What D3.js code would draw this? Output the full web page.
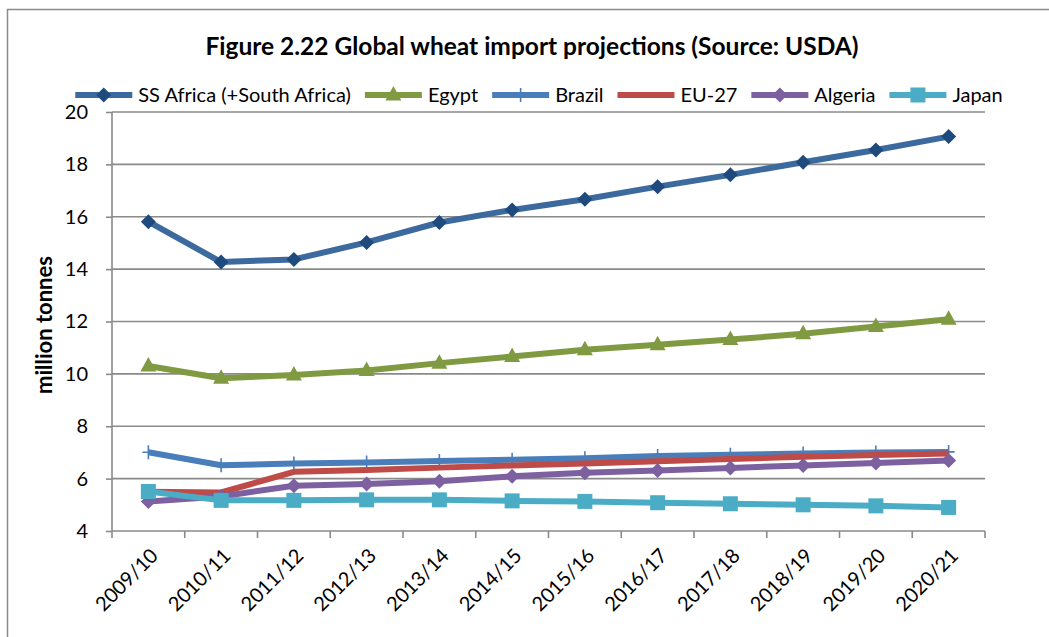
<!DOCTYPE html>
<meta charset="utf-8">
<style>
    body { margin: 0; background: #fff; }
    svg { display: block; }
    .grid line { stroke: #8a8a8a; stroke-width: 1.6px; }
    .axis path, .axis line { stroke: #8a8a8a; stroke-width: 1.6px; }
    .axis text { font-family: Lato, "Liberation Sans", sans-serif; font-size: 20px; fill: #000; }
    .axis .xlab { font-size: 20px; }
    .legend text { font-family: Lato, "Liberation Sans", sans-serif; font-size: 20px; fill: #000; }
    .title { font-family: Lato, "Liberation Sans", sans-serif; font-size: 24.5px; font-weight: bold; }
    .ylabel { font-family: Lato, "Liberation Sans", sans-serif; font-size: 22px; font-weight: bold; }
</style>
<svg width="1049" height="637"></svg>
<script src="https://d3js.org/d3.v7.min.js"></script>
<script>

    // data (million tonnes)
    var years = ["2009/10", "2010/11", "2011/12", "2012/13", "2013/14", "2014/15",
                 "2015/16", "2016/17", "2017/18", "2018/19", "2019/20", "2020/21"];
    var ssAfrica = [15.81, 14.27, 14.37, 15.02, 15.78, 16.26, 16.67, 17.15, 17.6, 18.08, 18.55, 19.06];
    var egypt    = [10.3, 9.83, 9.96, 10.13, 10.41, 10.66, 10.92, 11.11, 11.31, 11.53, 11.81, 12.09];
    var brazil   = [7.01, 6.51, 6.58, 6.62, 6.67, 6.72, 6.78, 6.86, 6.91, 6.96, 7.0, 7.02];
    var eu27     = [5.5, 5.47, 6.26, 6.33, 6.42, 6.5, 6.58, 6.66, 6.75, 6.84, 6.9, 6.96];
    var algeria  = [5.13, 5.32, 5.73, 5.79, 5.9, 6.09, 6.22, 6.31, 6.41, 6.5, 6.6, 6.69];
    var japan    = [5.51, 5.17, 5.17, 5.19, 5.19, 5.15, 5.13, 5.08, 5.04, 5.0, 4.96, 4.9];
    var yTicks   = [4, 6, 8, 10, 12, 14, 16, 18, 20];

    var series = [
        {name: "SS Africa (+South Africa)", values: ssAfrica, color: "#3d6a9e", mark: "#1f4a7d", symbol: "diamond"},
        {name: "Egypt",   values: egypt,   color: "#7f9a41", mark: "#7f9a41", symbol: "triangle"},
        {name: "Brazil",  values: brazil,  color: "#4a7ebb", mark: "#4a7ebb", symbol: "plus"},
        {name: "EU-27",   values: eu27,    color: "#be4b48", mark: "#be4b48", symbol: "none"},
        {name: "Algeria", values: algeria, color: "#7d60a0", mark: "#7d60a0", symbol: "diamond"},
        {name: "Japan",   values: japan,   color: "#4bacc6", mark: "#4bacc6", symbol: "square"}
    ];

    var svg = d3.select("svg");
    var plotL = 112, plotR = 985, plotT = 112, plotB = 531;

    // chart frame
    svg.append("path")
            .attr("d", "M7.5,660V9.5H1060")
            .attr("fill", "none")
            .attr("stroke", "#8a8a8a")
            .attr("stroke-width", 1.5);

    svg.append("text")
            .attr("class", "title")
            .attr("x", 532)
            .attr("y", 55)
            .attr("text-anchor", "middle")
            .text("Figure 2.22 Global wheat import projections (Source: USDA)");

    var x = d3.scaleBand().domain(years).range([plotL, plotR]);
    var y = d3.scaleLinear().domain([4, 20]).range([plotB, plotT]);

    // gridlines
    svg.append("g")
            .attr("class", "grid")
            .selectAll("line")
            .data(yTicks.slice(1))
            .enter().append("line")
            .attr("x1", plotL).attr("x2", plotR)
            .attr("y1", function(d) { return y(d); })
            .attr("y2", function(d) { return y(d); });

    // y axis
    var yAxis = svg.append("g")
            .attr("class", "axis")
            .attr("transform", "translate(" + plotL + ",0)")
            .call(d3.axisLeft(y).tickValues(yTicks).tickSize(6).tickPadding(18));
    yAxis.select(".domain").attr("d", "M0," + plotT + "V" + plotB);

    svg.append("text")
            .attr("class", "ylabel")
            .attr("transform", "translate(52,325) rotate(-90)")
            .attr("text-anchor", "middle")
            .text("million tonnes");

    // x axis: ticks sit on category boundaries
    var xAxis = svg.append("g")
            .attr("class", "axis")
            .attr("transform", "translate(0," + plotB + ")");
    xAxis.append("line")
            .attr("x1", plotL).attr("x2", plotR);
    var bounds = years.map(function(d) { return x(d); }).concat([plotR]);
    xAxis.selectAll(".tk")
            .data(bounds)
            .enter().append("line")
            .attr("class", "tk")
            .attr("x1", function(d) { return d; })
            .attr("x2", function(d) { return d; })
            .attr("y1", 0).attr("y2", 7);
    xAxis.selectAll("text")
            .data(years)
            .enter().append("text")
            .attr("class", "xlab")
            .attr("text-anchor", "end")
            .attr("dy", "0.35em")
            .attr("transform", function(d) {
                return "translate(" + (x(d) + x.bandwidth() / 2 + 6) + ",21) rotate(-45)";
            })
            .text(function(d) { return d; });

    var cx = function(i) { return x(years[i]) + x.bandwidth() / 2; };

    var line = d3.line()
            .x(function(d, i) { return cx(i); })
            .y(function(d) { return y(d); });

    function drawMarker(g, s) {
        if (s.symbol === "plus") {
            g.append("path")
                    .attr("d", "M0,-7V7M-6,0H6")
                    .attr("stroke", s.mark)
                    .attr("stroke-width", 1.6);
        } else if (s.symbol === "diamond") {
            g.append("path")
                    .attr("d", "M0,-7.5L7.5,0L0,7.5L-7.5,0Z")
                    .attr("fill", s.mark);
        } else if (s.symbol === "triangle") {
            g.append("path")
                    .attr("d", "M0,-9L8,5.5L-8,5.5Z")
                    .attr("fill", s.mark);
        } else if (s.symbol === "square") {
            g.append("rect")
                    .attr("x", -7.5).attr("y", -7.5)
                    .attr("width", 15).attr("height", 15)
                    .attr("fill", s.mark);
        }
    }

    var plot = svg.append("g").attr("class", "series");
    series.forEach(function(s) {
        var g = plot.append("g");
        g.append("path")
                .datum(s.values)
                .attr("fill", "none")
                .attr("stroke", s.color)
                .attr("stroke-width", 6)
                .attr("stroke-linejoin", "round")
                .attr("d", line);
        s.values.forEach(function(v, i) {
            var m = g.append("g").attr("transform", "translate(" + cx(i) + "," + y(v) + ")");
            drawMarker(m, s);
        });
    });

    // legend laid out in one row, then centred
    var legend = svg.append("g").attr("class", "legend");
    var pos = 0;
    series.forEach(function(s) {
        var item = legend.append("g").attr("transform", "translate(" + pos + ",0)");
        item.append("line")
                .attr("x1", 0).attr("x2", 57)
                .attr("stroke", s.color)
                .attr("stroke-width", 6);
        drawMarker(item.append("g").attr("transform", "translate(28.5,0)"), s);
        var t = item.append("text")
                .attr("x", 63)
                .attr("dy", "0.35em")
                .text(s.name);
        pos += 63 + t.node().getComputedTextLength() + 14;
    });
    pos -= 14;
    legend.attr("transform", "translate(" + (539 - pos / 2) + ",95)");

</script>
